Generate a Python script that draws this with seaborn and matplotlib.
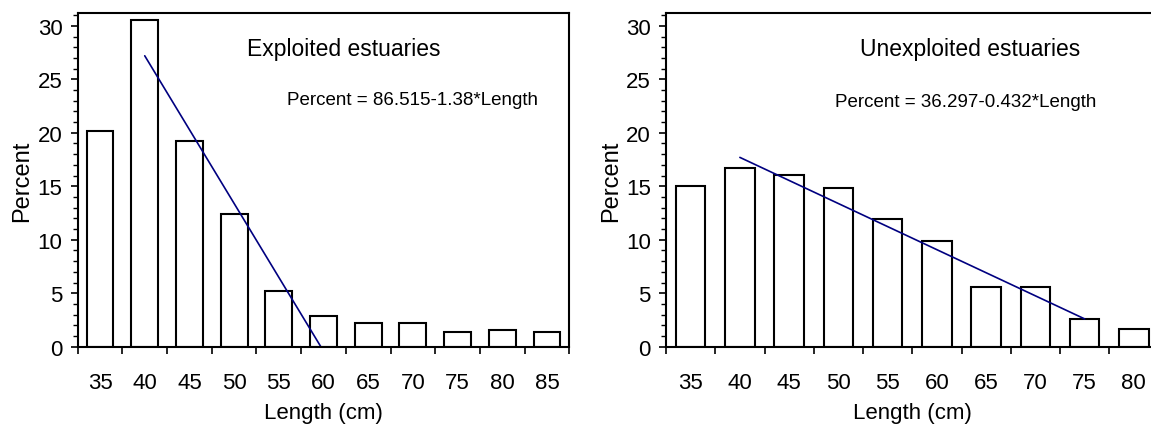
import numpy as np
import pandas as pd
import seaborn as sns
import matplotlib.pyplot as plt
from matplotlib.ticker import MultipleLocator, FixedLocator

# length classes (cm) and percent in each class
exp_length = [35, 40, 45, 50, 55, 60, 65, 70, 75, 80, 85]
exp_percent = [20.2, 30.5, 19.2, 12.4, 5.2, 2.9, 2.2, 2.2, 1.4, 1.6, 1.4]

unexp_length = [35, 40, 45, 50, 55, 60, 65, 70, 75, 80]
unexp_percent = [15.0, 16.7, 16.1, 14.8, 11.9, 9.9, 5.6, 5.6, 2.6, 1.7]

# regression lines as drawn (end points)
exp_fit_x = [40, 59.7]
exp_fit_y = [27.2, 0.0]
unexp_fit_x = [40, 75]
unexp_fit_y = [17.7, 2.6]

sns.set_theme(style="ticks")
plt.rcParams['font.family'] = ['Liberation Sans', 'DejaVu Sans']
for k in ["text.color", "axes.labelcolor", "xtick.color", "ytick.color"]:
    plt.rcParams[k] = "black"

fig = plt.figure(figsize=(11.51, 4.31), dpi=100)
ax1 = fig.add_axes([77.7 / 1151, 1 - 347.7 / 431, 491.6 / 1151, 333.7 / 431])
ax2 = fig.add_axes([666 / 1151, 1 - 347.7 / 431, 492.5 / 1151, 333.7 / 431])

panels = [
    (ax1, exp_length, exp_percent, exp_fit_x, exp_fit_y,
     "Exploited estuaries", (0.542, 0.895),
     "Percent = 86.515-1.38*Length", (0.682, 0.742)),
    (ax2, unexp_length, unexp_percent, unexp_fit_x, unexp_fit_y,
     "Unexploited estuaries", (0.617, 0.895),
     "Percent = 36.297-0.432*Length", (0.609, 0.734)),
]

for ax, length, percent, fx, fy, title, tpos, eq, epos in panels:
    df = pd.DataFrame({"Length": length, "Percent": percent})
    sns.barplot(data=df, x="Length", y="Percent", native_scale=True,
                width=0.6, color="white", edgecolor="black",
                linewidth=1.5, errorbar=None, ax=ax)
    for p in ax.patches:
        p.set_facecolor("white")
    sns.lineplot(x=fx, y=fy, color="#000080", linewidth=1.2, ax=ax)

    edges = [l - 2.5 for l in length] + [length[-1] + 2.5]
    ax.set_xlim(edges[0], edges[-1])
    ax.set_ylim(0, 31.2)
    ax.xaxis.set_major_locator(FixedLocator(edges))
    ax.xaxis.set_minor_locator(FixedLocator(length))
    ax.set_xticklabels([], minor=False)
    ax.set_xticklabels([str(l) for l in length], minor=True)
    ax.tick_params(axis="x", which="major", length=5, width=1.2, direction="out")
    ax.tick_params(axis="x", which="minor", length=0, pad=18, labelsize=16)

    ax.yaxis.set_major_locator(MultipleLocator(5))
    ax.yaxis.set_minor_locator(MultipleLocator(1))
    ax.tick_params(axis="y", which="major", length=5, width=1.2, labelsize=16, pad=6)
    ax.tick_params(axis="y", which="minor", length=3.5, width=1.0)

    for s in ax.spines.values():
        s.set_visible(True)
        s.set_linewidth(1.5)
        s.set_color("black")

    ax.set_xlabel("Length (cm)", fontsize=16, labelpad=7)
    ax.set_ylabel("Percent", fontsize=17, labelpad=3)
    ax.text(tpos[0], tpos[1], title, transform=ax.transAxes,
            ha="center", va="center", fontsize=16.5)
    ax.text(epos[0], epos[1], eq, transform=ax.transAxes,
            ha="center", va="center", fontsize=13.5)

fig.savefig("out.png", dpi=100)
